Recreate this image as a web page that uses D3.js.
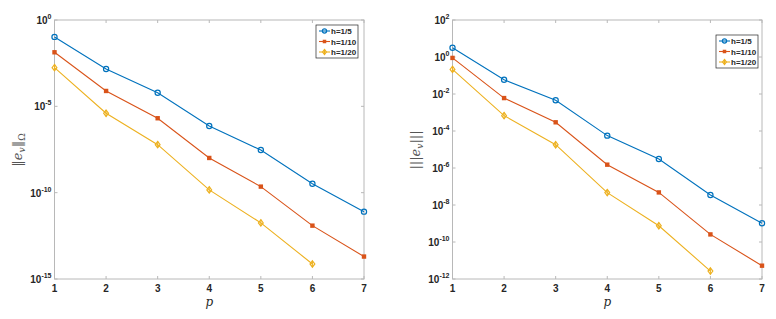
<!DOCTYPE html>
<html>
<head>
<meta charset="utf-8">
<script src="https://cdn.jsdelivr.net/npm/d3@7"></script>
<style>
  body { margin: 0; background: #fff; }
  svg { display: block; font-family: Arial, "Liberation Sans", sans-serif; }
</style>
</head>
<body>
<svg width="776" height="319"></svg>
<script>
var pValues = [1, 2, 3, 4, 5, 6, 7];
var seriesNames = ["h=1/5", "h=1/10", "h=1/20"];
var colors = ["#0072bd", "#d95319", "#edb120"];

// log10 of the errors
var leftH5  = [-0.98, -2.84, -4.21, -6.14, -7.53, -9.48, -11.1];
var leftH10 = [-1.87, -4.11, -5.69, -7.99, -9.65, -11.91, -13.7];
var leftH20 = [-2.76, -5.40, -7.22, -9.84, -11.75, -14.13];

var rightH5  = [0.50, -1.23, -2.34, -4.25, -5.51, -7.46, -8.99];
var rightH10 = [-0.05, -2.22, -3.53, -5.82, -7.32, -9.59, -11.28];
var rightH20 = [-0.67, -3.17, -4.74, -7.33, -9.12, -11.57];

var leftTicks = [0, -5, -10, -15];
var rightTicks = [2, 0, -2, -4, -6, -8, -10, -12];

var svg = d3.select("svg");

function drawPanel(opt) {
  var x = d3.scaleLinear().domain([1, 7]).range([opt.x0, opt.x1]);
  var y = d3.scaleLog().domain([Math.pow(10, opt.ymin), Math.pow(10, opt.ymax)]).range([279, 20]);
  var g = svg.append("g");
  var axisColor = "#b8b8b8";

  // box
  g.append("rect")
      .attr("x", opt.x0).attr("y", 20)
      .attr("width", opt.x1 - opt.x0).attr("height", 259)
      .attr("fill", "none").attr("stroke", axisColor);

  // x ticks inside bottom & top
  pValues.forEach(function(p) {
    g.append("line").attr("x1", x(p)).attr("x2", x(p)).attr("y1", 279).attr("y2", 276).attr("stroke", axisColor);
    g.append("line").attr("x1", x(p)).attr("x2", x(p)).attr("y1", 20).attr("y2", 23).attr("stroke", axisColor);
    g.append("text").attr("x", x(p)).attr("y", 292).attr("text-anchor", "middle")
        .attr("font-size", 10).attr("font-weight", "bold").attr("fill", "#262626").text(p);
  });

  opt.ticks.forEach(function(e) {
    var yy = y(Math.pow(10, e));
    g.append("line").attr("x1", opt.x0).attr("x2", opt.x0 + 3).attr("y1", yy).attr("y2", yy).attr("stroke", axisColor);
    g.append("line").attr("x1", opt.x1).attr("x2", opt.x1 - 3).attr("y1", yy).attr("y2", yy).attr("stroke", axisColor);
    var t = g.append("text").attr("x", opt.x0 - 3).attr("y", yy + 4).attr("text-anchor", "end")
        .attr("font-size", 10).attr("font-weight", "bold").attr("fill", "#262626");
    t.append("tspan").text("10");
    t.append("tspan").attr("dy", -5).attr("font-size", 7).text(e);
  });

  var line = d3.line()
      .x(function(d, i) { return x(pValues[i]); })
      .y(function(d) { return y(Math.pow(10, d)); });

  opt.series.forEach(function(s, k) {
    g.append("path").datum(s).attr("d", line)
        .attr("fill", "none").attr("stroke", colors[k]).attr("stroke-width", 1.1);
    s.forEach(function(d, i) {
      drawMarker(g, k, x(pValues[i]), y(Math.pow(10, d)));
    });
  });

  // legend
  var lg = g.append("g");
  lg.append("rect").attr("x", opt.lx).attr("y", opt.ly).attr("width", 42).attr("height", 33)
      .attr("fill", "#fff").attr("stroke", "#262626").attr("stroke-width", 0.7);
  seriesNames.forEach(function(n, k) {
    var yy = opt.ly + 6 + k * 10.5;
    lg.append("line").attr("x1", opt.lx + 3).attr("x2", opt.lx + 14).attr("y1", yy).attr("y2", yy)
        .attr("stroke", colors[k]).attr("stroke-width", 1.1);
    drawMarker(lg, k, opt.lx + 8.5, yy, 0.8);
    lg.append("text").attr("x", opt.lx + 15).attr("y", yy + 3)
        .attr("font-size", 8).attr("font-weight", "bold").attr("fill", "#262626").text(n);
  });

  // labels
  svg.append("text").attr("x", (opt.x0 + opt.x1) / 2).attr("y", 306).attr("text-anchor", "middle")
      .attr("font-family", "'DejaVu Serif', serif").attr("font-style", "italic")
      .attr("font-size", 12).attr("fill", "#262626").text("p");

  var yl = svg.append("text")
      .attr("transform", "translate(" + opt.ylx + ",150) rotate(-90)")
      .attr("text-anchor", "middle")
      .attr("font-family", "'DejaVu Serif', serif").attr("font-size", 13).attr("fill", "#555");
  yl.append("tspan").text(opt.bars);
  yl.append("tspan").attr("font-style", "italic").text("e");
  yl.append("tspan").attr("font-style", "italic").attr("font-size", 9).attr("dy", 3).text("v");
  yl.append("tspan").attr("dy", -3).text(opt.bars);
  if (opt.sub) yl.append("tspan").attr("font-size", 9).attr("dy", 3).text(opt.sub);
}

function drawMarker(g, k, cx, cy, sc) {
  sc = sc || 1;
  if (k === 0) {
    g.append("circle").attr("cx", cx).attr("cy", cy).attr("r", 2.6 * sc)
        .attr("fill", "none").attr("stroke", colors[0]).attr("stroke-width", 1.2);
  } else if (k === 1) {
    g.append("rect").attr("x", cx - 2.2 * sc).attr("y", cy - 2.2 * sc)
        .attr("width", 4.4 * sc).attr("height", 4.4 * sc).attr("fill", colors[1]);
  } else {
    var r = 3.2 * sc;
    g.append("path").attr("d", "M" + cx + "," + (cy - r) + "L" + (cx + r * 0.75) + "," + cy +
        "L" + cx + "," + (cy + r) + "L" + (cx - r * 0.75) + "," + cy + "Z")
        .attr("fill", "none").attr("stroke", colors[2]).attr("stroke-width", 1.2);
    g.append("line").attr("x1", cx).attr("x2", cx).attr("y1", cy - r).attr("y2", cy + r)
        .attr("stroke", colors[2]).attr("stroke-width", 1);
  }
}

drawPanel({
  x0: 54.5, x1: 364, ymin: -15, ymax: 0, ticks: leftTicks,
  series: [leftH5, leftH10, leftH20],
  lx: 316, ly: 25, ylx: 22, bars: "\u2016", sub: "\u03a9"
});

drawPanel({
  x0: 452.5, x1: 762, ymin: -12, ymax: 2, ticks: rightTicks,
  series: [rightH5, rightH10, rightH20],
  lx: 716, ly: 35, ylx: 420, bars: "|||", sub: ""
});
</script>
</body>
</html>
